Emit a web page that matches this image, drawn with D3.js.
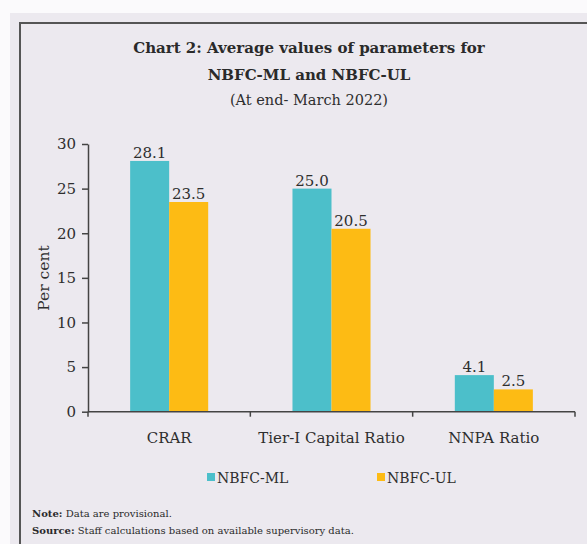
<!DOCTYPE html>
<html>
<head>
<meta charset="utf-8">
<script src="https://cdn.jsdelivr.net/npm/d3@7"></script>
<style>
  html, body { margin: 0; padding: 0; background: #fbfafc; }
  svg { display: block; }
</style>
</head>
<body>
<script>
const categories = ["CRAR", "Tier-I Capital Ratio", "NNPA Ratio"];
const seriesNames = ["NBFC-ML", "NBFC-UL"];
const mlValues = [28.1, 25.0, 4.1];
const ulValues = [23.5, 20.5, 2.5];
const yTicks = [0, 5, 10, 15, 20, 25, 30];
const titleLines = ["Chart 2: Average values of parameters for", "NBFC-ML and NBFC-UL"];
const subtitle = "(At end- March 2022)";
const yLabel = "Per cent";
const noteText = ["Note:", " Data are provisional."];
const sourceText = ["Source:", " Staff calculations based on available supervisory data."];

const colors = { "NBFC-ML": "#4cbfca", "NBFC-UL": "#fdbb14" };
const W = 587, H = 544;
const font = "'DejaVu Serif', serif";
const textCol = "#2e2e2e";

const svg = d3.select("body").append("svg").attr("width", W).attr("height", H);

// panel
svg.append("rect").attr("x", 10).attr("y", 13).attr("width", W - 10).attr("height", H - 13).attr("fill", "#ece9ef");
svg.append("rect").attr("x", 20).attr("y", 23).attr("width", W + 20).attr("height", H + 20)
  .attr("fill", "none").attr("stroke", "#555").attr("stroke-width", 2);

// title
const cx = 309;
svg.append("text").attr("x", cx).attr("y", 53).attr("text-anchor", "middle")
  .attr("font-family", font).attr("font-weight", "bold").attr("font-size", 15).attr("fill", "#2a2a2a")
  .text(titleLines[0]);
svg.append("text").attr("x", cx).attr("y", 80).attr("text-anchor", "middle")
  .attr("font-family", font).attr("font-weight", "bold").attr("font-size", 15).attr("fill", "#2a2a2a")
  .text(titleLines[1]);
svg.append("text").attr("x", cx).attr("y", 105).attr("text-anchor", "middle")
  .attr("font-family", font).attr("font-size", 14.5).attr("fill", textCol)
  .text(subtitle);

// scales
const x0 = d3.scaleBand().domain(categories).range([88, 575]).padding(0);
const x1 = d3.scaleBand().domain(seriesNames).range([0, x0.bandwidth()]).paddingInner(0).paddingOuter(1.08);
const y = d3.scaleLinear().domain([0, 30]).range([411.7, 144]);

const data = categories.map((c, i) => ({ cat: c, vals: [
  { s: seriesNames[0], v: mlValues[i] },
  { s: seriesNames[1], v: ulValues[i] }
]}));

// bars
const g = svg.append("g");
const groups = g.selectAll("g.grp").data(data).join("g").attr("class", "grp")
  .attr("transform", d => `translate(${x0(d.cat)},0)`);
groups.selectAll("rect").data(d => d.vals).join("rect")
  .attr("x", d => x1(d.s)).attr("width", x1.bandwidth())
  .attr("y", d => y(d.v)).attr("height", d => y(0) - y(d.v))
  .attr("fill", d => colors[d.s]);
groups.selectAll("text").data(d => d.vals).join("text")
  .attr("x", d => x1(d.s) + x1.bandwidth() / 2).attr("y", d => y(d.v) - 3)
  .attr("text-anchor", "middle").attr("font-family", font).attr("font-size", 15)
  .attr("fill", textCol).text(d => d.v.toFixed(1));

// y axis
const yAxis = svg.append("g").attr("transform", "translate(88,0)")
  .call(d3.axisLeft(y).tickValues(yTicks).tickSize(6).tickSizeOuter(0).tickPadding(6));
yAxis.selectAll("text").attr("font-family", font).attr("font-size", 15).attr("fill", textCol);
yAxis.selectAll("line, path").attr("stroke", "#444").attr("stroke-width", 1.5);

// x axis (ticks at band boundaries)
const boundaries = [...categories.map(c => x0(c)), x0.range()[1]];
const xAxisG = svg.append("g");
xAxisG.append("line").attr("x1", x0.range()[0]).attr("x2", x0.range()[1])
  .attr("y1", y(0)).attr("y2", y(0)).attr("stroke", "#444").attr("stroke-width", 1.5);
xAxisG.selectAll("line.tk").data(boundaries).join("line").attr("class", "tk")
  .attr("x1", d => d).attr("x2", d => d).attr("y1", y(0)).attr("y2", y(0) + 5)
  .attr("stroke", "#444").attr("stroke-width", 1.5);
xAxisG.selectAll("text").data(categories).join("text")
  .attr("x", d => x0(d) + x0.bandwidth() / 2).attr("y", 443)
  .attr("text-anchor", "middle").attr("font-family", font).attr("font-size", 15)
  .attr("fill", textCol).text(d => d);

// y label
svg.append("text").attr("transform", "translate(49,278) rotate(-90)")
  .attr("text-anchor", "middle").attr("font-family", font).attr("font-size", 15.5)
  .attr("fill", textCol).text(yLabel);

// legend
const legendX = [207, 377];
const leg = svg.selectAll("g.leg").data(seriesNames).join("g").attr("class", "leg")
  .attr("transform", (d, i) => `translate(${legendX[i]},0)`);
leg.append("rect").attr("x", 0).attr("y", 473).attr("width", 8).attr("height", 8)
  .attr("fill", d => colors[d]);
leg.append("text").attr("x", 10).attr("y", 483).attr("font-family", font).attr("font-size", 14)
  .attr("fill", textCol).text(d => d);

// notes
function note(parts, yPos) {
  const t = svg.append("text").attr("x", 32).attr("y", yPos).attr("font-family", font)
    .attr("font-size", 10).attr("fill", "#2a2a2a");
  t.append("tspan").attr("font-weight", "bold").text(parts[0]);
  t.append("tspan").text(parts[1]);
}
note(noteText, 517);
note(sourceText, 534);
</script>
</body>
</html>
